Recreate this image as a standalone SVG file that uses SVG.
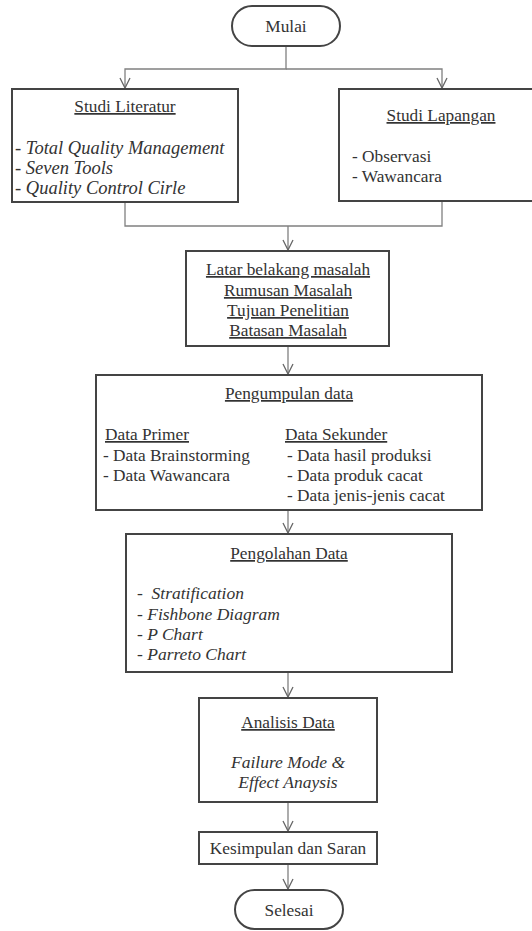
<svg xmlns="http://www.w3.org/2000/svg" width="532" height="931" viewBox="0 0 532 931">
<style>
text{font-family:'Liberation Serif','Tinos','DejaVu Serif',serif;font-size:17.3px;fill:#333}
.c{text-anchor:middle}
.u{text-decoration:underline}
.i{font-style:italic;font-size:17.5px}
.big{font-size:18.5px}
.box{fill:#fff;stroke:#444;stroke-width:2}
.conn{fill:none;stroke:#808080;stroke-width:1.3}
</style>
<defs>
<marker id="arr" markerUnits="userSpaceOnUse" markerWidth="12" markerHeight="12" viewBox="0 0 12 12" refX="11" refY="6" orient="auto">
<path d="M1,1 L11,6 L1,11" fill="none" stroke="#666" stroke-width="1.3"/>
</marker>
</defs>
<rect width="532" height="931" fill="#fff"/>
<g id="connectors">
<path class="conn" d="M286,46 V69 H125 V88" marker-end="url(#arr)"/>
<path class="conn" d="M286,69 H442 V88" marker-end="url(#arr)"/>
<path class="conn" d="M125,202 V226 H442 V201"/>
<path class="conn" d="M288,226 V250" marker-end="url(#arr)"/>
<path class="conn" d="M288,346 V374" marker-end="url(#arr)"/>
<path class="conn" d="M288,510 V533" marker-end="url(#arr)"/>
<path class="conn" d="M288,672 V697" marker-end="url(#arr)"/>
<path class="conn" d="M288,802 V831" marker-end="url(#arr)"/>
<path class="conn" d="M288,864 V889" marker-end="url(#arr)"/>
</g>
<g id="mulai">
<rect class="box" x="232" y="6" width="108" height="40" rx="20"/>
<text class="c" x="286" y="32">Mulai</text>
</g>
<g id="studi-literatur">
<rect class="box" x="12" y="89" width="226" height="113"/>
<text class="c u" x="125" y="112">Studi Literatur</text>
<text class="i big" x="15" y="154">- Total Quality Management</text>
<text class="i big" x="15" y="174">- Seven Tools</text>
<text class="i big" x="15" y="194">- Quality Control Cirle</text>
</g>
<g id="studi-lapangan">
<rect class="box" x="339" y="89" width="205" height="112"/>
<text class="c u" x="441" y="121">Studi Lapangan</text>
<text x="352" y="162">- Observasi</text>
<text x="352" y="182">- Wawancara</text>
</g>
<g id="latar-belakang">
<rect class="box" x="186" y="251" width="203" height="95"/>
<text class="c u" x="288" y="275">Latar belakang masalah</text>
<text class="c u" x="288" y="296">Rumusan Masalah</text>
<text class="c u" x="288" y="316">Tujuan Penelitian</text>
<text class="c u" x="288" y="336">Batasan Masalah</text>
</g>
<g id="pengumpulan-data">
<rect class="box" x="96" y="375" width="386" height="135"/>
<text class="c u" x="289" y="399">Pengumpulan data</text>
<text class="u" x="105" y="440">Data Primer</text>
<text x="103" y="461">- Data Brainstorming</text>
<text x="103" y="481">- Data Wawancara</text>
<text class="u" x="285" y="440">Data Sekunder</text>
<text x="287" y="461">- Data hasil produksi</text>
<text x="287" y="481">- Data produk cacat</text>
<text x="287" y="501">- Data jenis-jenis cacat</text>
</g>
<g id="pengolahan-data">
<rect class="box" x="126" y="534" width="326" height="138"/>
<text class="c u" x="289" y="559">Pengolahan Data</text>
<text class="i" x="137" y="599" xml:space="preserve">-  Stratification</text>
<text class="i" x="137" y="620">- Fishbone Diagram</text>
<text class="i" x="137" y="640">- P Chart</text>
<text class="i" x="137" y="660">- Parreto Chart</text>
</g>
<g id="analisis-data">
<rect class="box" x="199" y="698" width="178" height="104"/>
<text class="c u" x="288" y="728">Analisis Data</text>
<text class="c i" x="288" y="768">Failure Mode &amp;</text>
<text class="c i" x="288" y="788">Effect Anaysis</text>
</g>
<g id="kesimpulan">
<rect class="box" x="199" y="832" width="178" height="32"/>
<text class="c" x="288" y="854">Kesimpulan dan Saran</text>
</g>
<g id="selesai">
<rect class="box" x="235" y="890" width="108" height="39" rx="19.5"/>
<text class="c" x="289" y="916">Selesai</text>
</g>
</svg>
